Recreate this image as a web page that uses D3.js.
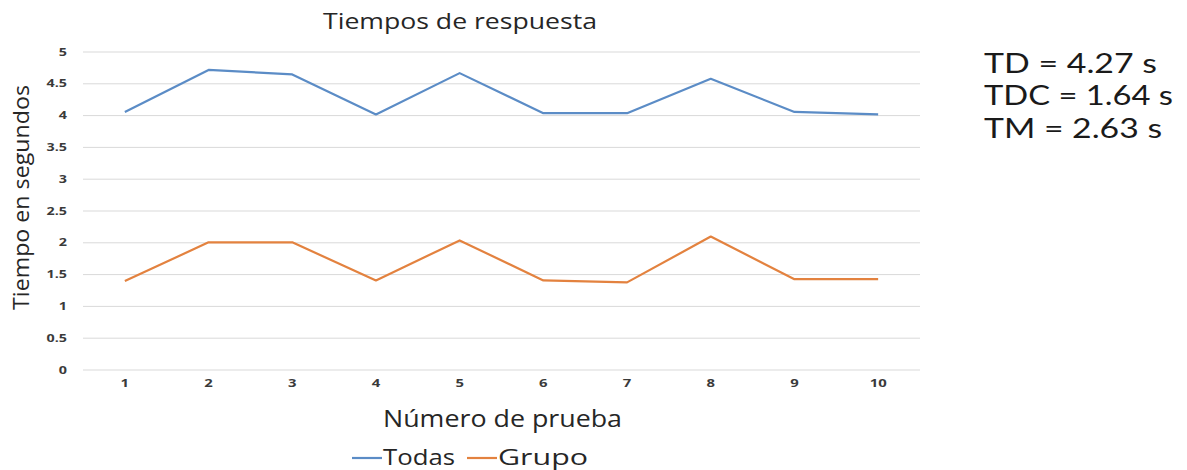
<!DOCTYPE html>
<html>
<head>
<meta charset="utf-8">
<script src="https://cdn.jsdelivr.net/npm/d3@7"></script>
<style>
  html, body { margin: 0; padding: 0; background: #fff; }
  svg { display: block; }
  text { font-family: "Open Sans", "Noto Sans", sans-serif; }
</style>
</head>
<body>
<svg id="chart" width="1187" height="470"></svg>
<script>
// Response times per trial
const trials = ["1", "2", "3", "4", "5", "6", "7", "8", "9", "10"];
const todas = [4.05, 4.71, 4.64, 4.01, 4.66, 4.03, 4.03, 4.57, 4.05, 4.01];
const grupo = [1.39, 2.0, 2.0, 1.40, 2.03, 1.40, 1.37, 2.09, 1.42, 1.42];
const yTicks = [0, 0.5, 1, 1.5, 2, 2.5, 3, 3.5, 4, 4.5, 5];
const seriesNames = ["Todas", "Grupo"];
const summaryLines = ["TD = 4.27 s", "TDC = 1.64 s", "TM = 2.63 s"];

const colors = { Todas: "#5b8cc6", Grupo: "#e3823f" };
const svg = d3.select("#chart");

const plot = { left: 83, right: 920, top: 51.5, bottom: 369.5 };

const x = d3.scaleBand().domain(trials).range([plot.left, plot.right]);
const y = d3.scaleLinear().domain([0, 5]).range([plot.bottom, plot.top]);

// Widen glyphs horizontally by a factor, or fit them to a given width
function stretch(sel, factor) {
  sel.each(function () {
    const w = this.getComputedTextLength();
    this.setAttribute("textLength", (w * factor).toFixed(1));
    this.setAttribute("lengthAdjust", "spacingAndGlyphs");
  });
}
function fit(sel, width) {
  sel.attr("textLength", width).attr("lengthAdjust", "spacingAndGlyphs");
}

// Horizontal gridlines + y tick labels
const yAxis = d3.axisLeft(y)
  .tickValues(yTicks)
  .tickSize(-(plot.right - plot.left))
  .tickPadding(16)
  .tickFormat(d => String(d));
const gy = svg.append("g").attr("transform", `translate(${plot.left},0)`).call(yAxis);
gy.select(".domain").remove();
gy.selectAll(".tick line").attr("stroke", "#d9d9d9").attr("stroke-width", 1);
gy.selectAll(".tick text")
  .attr("fill", "#3a3a3a")
  .style("font-size", "11px")
  .style("font-weight", "bold")
  .call(stretch, 1.3);

// X tick labels
const xAxis = d3.axisBottom(x).tickSize(0).tickPadding(10);
const gx = svg.append("g").attr("transform", `translate(0,${plot.bottom})`).call(xAxis);
gx.select(".domain").remove();
gx.selectAll(".tick text")
  .attr("fill", "#3a3a3a")
  .style("font-size", "11px")
  .style("font-weight", "bold")
  .call(stretch, 1.35);

// Series lines
const line = d3.line()
  .x((d, i) => x(trials[i]) + x.bandwidth() / 2)
  .y(d => y(d));

[["Todas", todas], ["Grupo", grupo]].forEach(([name, vals]) => {
  svg.append("path")
    .datum(vals)
    .attr("fill", "none")
    .attr("stroke", colors[name])
    .attr("stroke-width", 2.2)
    .attr("stroke-linejoin", "round")
    .attr("d", line);
});

// Title
svg.append("text")
  .attr("x", 460).attr("y", 29)
  .attr("text-anchor", "middle")
  .attr("fill", "#262626")
  .style("font-size", "22px")
  .text("Tiempos de respuesta")
  .call(fit, 274);

// Axis titles
svg.append("text")
  .attr("transform", "translate(29,197.5) rotate(-90)")
  .attr("text-anchor", "middle")
  .attr("fill", "#262626")
  .style("font-size", "21px")
  .text("Tiempo en segundos")
  .call(fit, 225);

svg.append("text")
  .attr("x", 502.5).attr("y", 427)
  .attr("text-anchor", "middle")
  .attr("fill", "#262626")
  .style("font-size", "23px")
  .text("Número de prueba")
  .call(fit, 239);

// Legend
const legendItems = [
  { name: "Todas", x0: 352, tx: 383, w: 72 },
  { name: "Grupo", x0: 467, tx: 498, w: 90 }
];
const legend = svg.append("g");
legendItems.forEach(it => {
  legend.append("line")
    .attr("x1", it.x0).attr("x2", it.x0 + 30)
    .attr("y1", 458).attr("y2", 458)
    .attr("stroke", colors[it.name]).attr("stroke-width", 2.2);
  legend.append("text")
    .attr("x", it.tx).attr("y", 465)
    .attr("fill", "#262626")
    .style("font-size", "21px")
    .text(it.name)
    .call(fit, it.w);
});

// Summary annotation
const summaryWidths = [173, 189, 178];
svg.append("g").selectAll("text")
  .data(summaryLines)
  .join("text")
  .attr("x", 984)
  .attr("y", (d, i) => 72.5 + i * 32.5)
  .attr("fill", "#1a1a1a")
  .style("font-family", "Lato, 'Open Sans', sans-serif")
  .style("font-size", "26px")
  .text(d => d)
  .each(function (d, i) { d3.select(this).call(fit, summaryWidths[i]); });
</script>
</body>
</html>
